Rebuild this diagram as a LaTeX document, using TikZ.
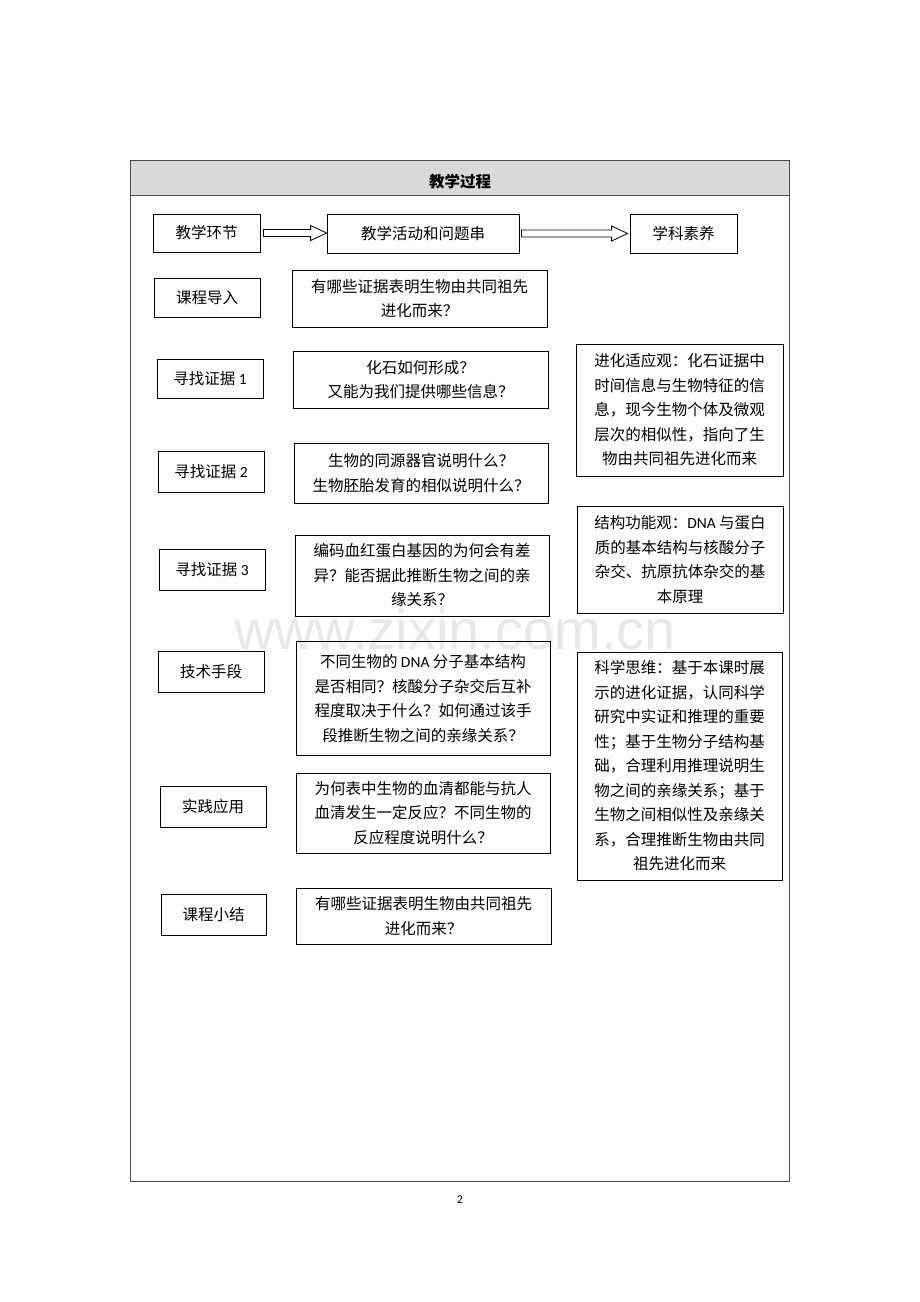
\documentclass[tikz,border=0pt]{standalone}
\usepackage{fontspec}
\usetikzlibrary{calc}
\setmainfont{Carlito}
\newfontfamily\cjk{Noto Sans CJK SC}
\newfontfamily\lat{Carlito}
\newfontfamily\wmfont{Liberation Sans}
\begin{document}
\begin{tikzpicture}[x=1pt,y=-1pt,
  box/.style={draw, line width=0.8pt, inner sep=0pt, align=center,
    font=\cjk\fontsize{15.5}{24.5}\selectfont},
  harrow/.style={draw, line width=0.8pt, fill=white}]
\useasboundingbox (0,0) rectangle (920,1302);
% watermark
\node[text=black!9, font=\wmfont\fontsize{56}{56}\selectfont, inner sep=0pt, anchor=base] (wm) at (455,649) {www.zixin.com.cn};
% frame
\fill[black!15] (130,160) rectangle (789,195);
\draw[black!70, line width=0.8pt] (130,195) -- (789,195);
\draw[black!70, line width=0.9pt] (130,160) rectangle (789,1181);
\node[font=\cjk\bfseries\fontsize{15.5}{18}\selectfont] (title) at (460,182) {教学过程};
% top row
\node[box, minimum width=107, minimum height=38] (ta) at (206.5,233) {教学环节};
\node[box, minimum width=192, minimum height=39] (tb) at (423,233.5) {教学活动和问题串};
\node[box, minimum width=107, minimum height=39] (tc) at (683.5,233.5) {学科素养};
\path ([xshift=3pt]ta.east) coordinate (a1) (tb.west) coordinate (a2);
\path ([xshift=2pt]tb.east) coordinate (b1) ([xshift=-2pt]tc.west) coordinate (b2);
\draw[harrow] let \p1=(a1), \p2=(a2) in
  (\x1,\y1+3.5pt) -- (\x2-16pt,\y1+3.5pt) -- (\x2-16pt,\y1+7.5pt) -- (\x2,\y1)
  -- (\x2-16pt,\y1-7.5pt) -- (\x2-16pt,\y1-3.5pt) -- (\x1,\y1-3.5pt) -- cycle;
\draw[harrow] let \p1=(b1), \p2=(b2) in
  (\x1,\y1+3.5pt) -- (\x2-16pt,\y1+3.5pt) -- (\x2-16pt,\y1+7.5pt) -- (\x2,\y1)
  -- (\x2-16pt,\y1-7.5pt) -- (\x2-16pt,\y1-3.5pt) -- (\x1,\y1-3.5pt) -- cycle;
% left column
\node[box, minimum width=106, minimum height=39] (l0) at (207,297.5) {课程导入};
\node[box, minimum width=106, minimum height=39] (l1) at (210,378.5) {寻找证据 {\lat 1}};
\node[box, minimum width=106, minimum height=41] (l2) at (211,471.5) {寻找证据 {\lat 2}};
\node[box, minimum width=106, minimum height=41] (l3) at (212,569.5) {寻找证据 {\lat 3}};
\node[box, minimum width=106, minimum height=41] (l4) at (211,671.5) {技术手段};
\node[box, minimum width=106, minimum height=41] (l5) at (213,806.5) {实践应用};
\node[box, minimum width=105, minimum height=41] (l6) at (213.5,914.5) {课程小结};
% middle column
\node[box, minimum width=255, minimum height=57] (q0) at (419.5,298.5)
  {有哪些证据表明生物由共同祖先\\进化而来？};
\node[box, minimum width=255, minimum height=57] (q1) at (420.5,379.5)
  {化石如何形成？\\又能为我们提供哪些信息？};
\node[box, minimum width=254, minimum height=60] (q2) at (421,473)
  {生物的同源器官说明什么？\\生物胚胎发育的相似说明什么？};
\node[box, minimum width=254, minimum height=81] (q3) at (422,575.5)
  {编码血红蛋白基因的为何会有差\\异？能否据此推断生物之间的亲\\缘关系？};
\node[box, minimum width=254, minimum height=114] (q4) at (423,698.5)
  {不同生物的 {\lat DNA} 分子基本结构\\是否相同？核酸分子杂交后互补\\程度取决于什么？如何通过该手\\段推断生物之间的亲缘关系？};
\node[box, minimum width=254, minimum height=80] (q5) at (423,813)
  {为何表中生物的血清都能与抗人\\血清发生一定反应？不同生物的\\反应程度说明什么？};
\node[box, minimum width=255, minimum height=56] (q6) at (423.5,916)
  {有哪些证据表明生物由共同祖先\\进化而来？};
% right column
\node[box, minimum width=207, minimum height=132] (r1) at (679.5,410)
  {进化适应观：化石证据中\\时间信息与生物特征的信\\息，现今生物个体及微观\\层次的相似性，指向了生\\物由共同祖先进化而来};
\node[box, minimum width=206, minimum height=107] (r2) at (680,559.5)
  {结构功能观：{\lat DNA} 与蛋白\\质的基本结构与核酸分子\\杂交、抗原抗体杂交的基\\本原理};
\node[box, minimum width=205, minimum height=228] (r3) at (679.5,766)
  {科学思维：基于本课时展\\示的进化证据，认同科学\\研究中实证和推理的重要\\性；基于生物分子结构基\\础，合理利用推理说明生\\物之间的亲缘关系；基于\\生物之间相似性及亲缘关\\系，合理推断生物由共同\\祖先进化而来};
% page number
\node[font=\lat\fontsize{12}{14}\selectfont] (pg) at (460,1200) {2};
\end{tikzpicture}
\end{document}
